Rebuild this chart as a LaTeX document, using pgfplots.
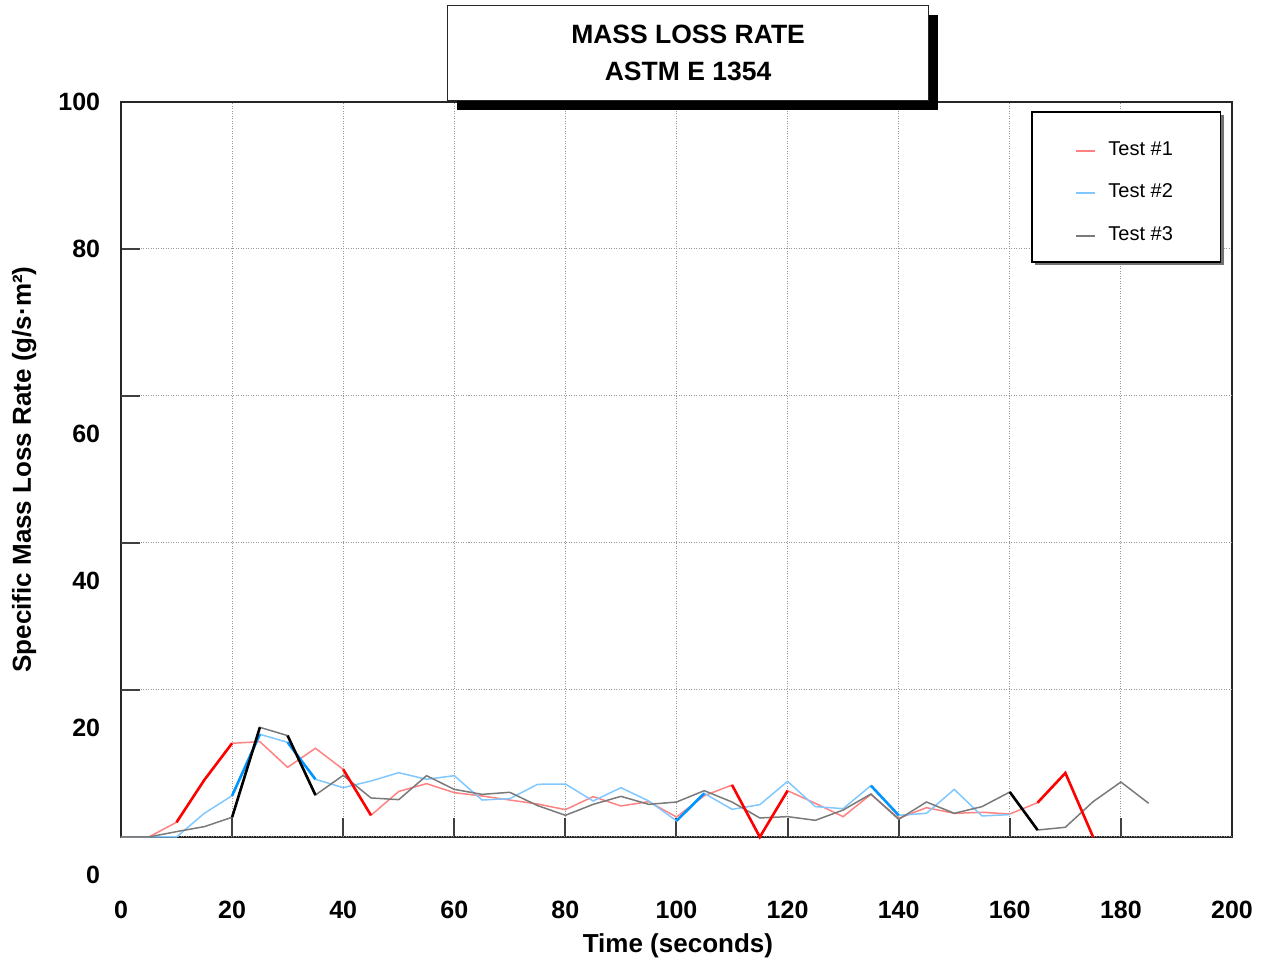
\documentclass[border=0pt]{standalone}
\usepackage{fontspec}
\setmainfont{Liberation Sans}
\usepackage{pgfplots}
\pgfplotsset{compat=1.18}
\usetikzlibrary{shadows}

\definecolor{redlt}{HTML}{FF8282}
\definecolor{redbd}{HTML}{FF0000}
\definecolor{bluelt}{HTML}{80C8FF}
\definecolor{bluebd}{HTML}{0096FF}
\definecolor{graylt}{HTML}{7A7A7A}

\begin{document}
\begin{tikzpicture}
\begin{axis}[
  scale only axis,
  width=555.5pt, height=367.5pt,
  xmin=0, xmax=200, ymin=0, ymax=100,
  clip=false,
  xtick={0,20,...,200},
  ytick={80,100},
  extra y ticks={0,20,40,60},
  extra y tick style={grid=major, yticklabel style={yshift=-18.85pt}},
  grid=major,
  grid style={gray!80, line width=0.5pt, dash pattern=on 0.5pt off 0.75pt},
  tick pos=left,
  tick align=inside,
  major tick length=9.5pt,
  tick style={black!75, line width=1pt},
  axis line style={black!85, line width=0.7pt},
  /pgf/number format/assume math mode=true,
  tick label style={font=\fontsize{12.5pt}{15pt}\selectfont\bfseries, inner sep=0pt},
  xticklabel style={anchor=center, yshift=-36.5pt},
  yticklabel style={anchor=east, xshift=-10.25pt},
  xlabel={Time (seconds)},
  ylabel={Specific Mass Loss Rate (g/s·m²)},
  every axis x label/.style={at={(axis description cs:0.5013,-0.1574)}, anchor=base,
    font=\fontsize{13pt}{15pt}\selectfont\bfseries},
  every axis y label/.style={at={(axis description cs:-0.0812,0.5)}, anchor=base, rotate=90,
    font=\fontsize{13pt}{15pt}\selectfont\bfseries},
  title={MASS LOSS RATE\\ASTM E 1354},
  every axis title/.style={at={(axis description cs:0.5104,1.0664)}, anchor=center,
    align=center, draw=black!85, line width=0.6pt, fill=white, inner sep=0pt,
    minimum width=240.75pt, minimum height=47.5pt,
    font=\fontsize{13.25pt}{18.35pt}\selectfont\bfseries,
    drop shadow={shadow xshift=4.75pt, shadow yshift=-4.5pt, fill=black, opacity=1}},
  legend image code/.code={\draw[#1, line width=1pt] (0pt,0pt) -- (9.5pt,0pt);},
  legend style={at={(axis description cs:0.8587,0.9475)}, anchor=north west,
    draw=none, fill=none, inner sep=0pt,
    font=\fontsize{10pt}{12pt}\selectfont,
    row sep=11.6pt, column sep=6pt, cells={anchor=west},
    nodes={inner sep=0pt, text height=7.2pt, text depth=2.5pt}},
]

% frame behind the legend entries
\node[draw=black, line width=0.8pt, fill=white, inner sep=0pt,
  minimum width=94.3pt, minimum height=75pt,
  drop shadow={shadow xshift=1.75pt, shadow yshift=-1.5pt, fill=black!55, opacity=1}]
  at (axis description cs:0.9046,0.8840) {};

% thin traces, one per test
\addplot[redlt, line width=0.75pt] coordinates {
(0,0) (5,0) (10,2.0) (15,7.76) (20,12.75) (25,12.97) (30,9.48) (35,12.07)
(40,9.2) (45,2.95) (50,6.2) (55,7.26) (60,6.03) (65,5.58) (70,5.03) (75,4.49)
(80,3.72) (85,5.49) (90,4.22) (95,4.81) (100,2.72) (105,5.62) (110,7.07)
(115,0) (120,6.3) (125,4.58) (130,2.77) (135,5.8) (140,2.54) (145,3.99)
(150,3.22) (155,3.36) (160,3.13) (165,4.67) (170,8.71) (175,0)
};
\addlegendentry{Test \#1}

\addplot[bluelt, line width=0.75pt] coordinates {
(0,0) (5,0) (10,0) (15,3.22) (20,5.62) (25,13.97) (30,12.88) (35,7.85)
(40,6.71) (45,7.62) (50,8.75) (55,7.85) (60,8.34) (65,5.03) (70,5.22)
(75,7.17) (80,7.21) (85,4.9) (90,6.71) (95,4.9) (100,2.2) (105,5.94)
(110,3.76) (115,4.4) (120,7.57) (125,4.13) (130,3.86) (135,6.99) (140,2.95)
(145,3.22) (150,6.48) (155,2.86) (160,3.04)
};
\addlegendentry{Test \#2}

\addplot[graylt, line width=0.75pt] coordinates {
(0,0) (5,0) (10,0.73) (15,1.41) (20,2.68) (25,14.92) (30,13.79) (35,5.71)
(40,8.39) (45,5.31) (50,5.08) (55,8.34) (60,6.48) (65,5.8) (70,6.08)
(75,4.27) (80,2.95) (85,4.44) (90,5.53) (95,4.44) (100,4.76) (105,6.3)
(110,4.76) (115,2.59) (120,2.77) (125,2.27) (130,3.67) (135,5.85) (140,2.4)
(145,4.76) (150,3.22) (155,4.13) (160,6.12) (165,0.95) (170,1.32) (175,4.81)
(180,7.48) (185,4.58)
};
\addlegendentry{Test \#3}

% steep stretches come out heavier in the original
\addplot[forget plot, redbd, line width=1.3pt, unbounded coords=jump] coordinates {
(10,2.0) (15,7.76) (20,12.75) (30,nan) (40,9.2) (45,2.95) (50,nan)
(110,7.07) (115,0) (120,6.3) (140,nan) (165,4.67) (170,8.71) (175,0)
};
\addplot[forget plot, bluebd, line width=1.3pt, unbounded coords=jump] coordinates {
(20,5.62) (25,13.97) (27,nan) (30,12.88) (35,7.85) (37,nan)
(100,2.2) (105,5.94) (107,nan) (135,6.99) (140,2.95)
};
\addplot[forget plot, black, line width=1.3pt, unbounded coords=jump] coordinates {
(20,2.68) (25,14.92) (27,nan) (30,13.79) (35,5.71) (37,nan)
(160,6.12) (165,0.95)
};
\end{axis}
\path (-60.5pt,-63pt) rectangle (572.5pt,418.5pt);
\end{tikzpicture}
\end{document}
